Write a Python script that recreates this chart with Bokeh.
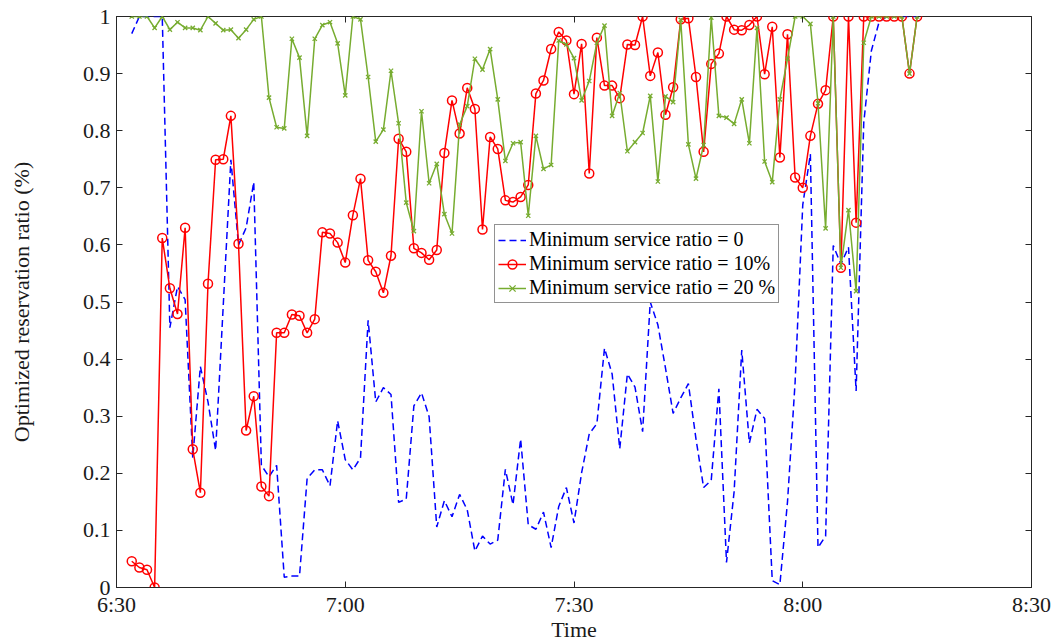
from bokeh.plotting import figure
from bokeh.models import FixedTicker, LinearAxis, CustomLabelingPolicy
from bokeh.embed import file_html
from bokeh.resources import INLINE

# minutes after 6:30
minutes = list(range(2, 106))

ratio_0 = [0.97, 1.0, 1.0, 1.0, 1.0, 0.455, 0.527, 0.504, 0.227, 0.387, 0.325, 0.240, 0.494, 0.749, 0.600, 0.630, 0.710,
           0.214, 0.194, 0.214, 0.018, 0.02, 0.02, 0.191, 0.206, 0.206, 0.178, 0.292, 0.224, 0.206, 0.227, 0.468, 0.325, 0.350, 0.338,
           0.149, 0.155, 0.318, 0.341, 0.299, 0.106, 0.152, 0.124, 0.163, 0.136, 0.064, 0.090, 0.076, 0.083, 0.207, 0.145, 0.260,
           0.110, 0.102, 0.132, 0.070, 0.142, 0.175, 0.113, 0.201, 0.269, 0.287, 0.419, 0.374, 0.243, 0.374, 0.351, 0.273, 0.500, 0.460,
           0.384, 0.305, 0.332, 0.357, 0.260, 0.175, 0.188, 0.348, 0.044, 0.168, 0.416, 0.253, 0.312, 0.296, 0.012, 0.005, 0.15,
           0.36, 0.67, 0.759, 0.07, 0.09, 0.599, 0.566, 0.596, 0.344, 0.814, 0.94, 0.99, 1.0, 1.0, 1.0, 1.0, 1.0]

ratio_10 = [0.046, 0.035, 0.031, 0.0, 0.612, 0.524, 0.479, 0.630, 0.242, 0.166, 0.532, 0.749, 0.750, 0.826, 0.602, 0.275, 0.335,
            0.177, 0.160, 0.446, 0.446, 0.478, 0.476, 0.446, 0.470, 0.622, 0.620, 0.604, 0.569, 0.652, 0.716, 0.573, 0.553, 0.516, 0.581,
            0.786, 0.763, 0.594, 0.586, 0.574, 0.591, 0.761, 0.853, 0.795, 0.875, 0.838, 0.627, 0.789, 0.768, 0.678, 0.675, 0.684,
            0.705, 0.865, 0.888, 0.943, 0.973, 0.958, 0.864, 0.952, 0.725, 0.963, 0.879, 0.879, 0.857, 0.951, 0.950, 1.0, 0.896, 0.937,
            0.828, 0.876, 0.995, 0.997, 0.894, 0.763, 0.917, 0.935, 1.0, 0.977, 0.976, 0.985, 1.0, 0.899, 0.982, 0.753, 0.969,
            0.718, 0.700, 0.791, 0.847, 0.871, 1.0, 0.560, 1.0, 0.639, 1.0, 1.0, 1.0, 1.0, 1.0, 1.0, 0.900, 1.0]

ratio_20 = [1.0, 1.0, 1.0, 0.980, 1.0, 0.977, 0.990, 0.980, 0.980, 0.976, 1.0, 0.988, 0.976, 0.977, 0.962, 0.977, 0.995,
            1.0, 0.858, 0.806, 0.804, 0.961, 0.928, 0.791, 0.961, 0.985, 0.990, 0.953, 0.862, 1.0, 0.995, 0.894, 0.781, 0.802, 0.905,
            0.813, 0.674, 0.624, 0.834, 0.708, 0.742, 0.654, 0.620, 0.811, 0.843, 0.926, 0.907, 0.943, 0.855, 0.747, 0.778, 0.780,
            0.651, 0.791, 0.733, 0.740, 0.958, 0.951, 0.927, 0.853, 0.887, 0.954, 0.984, 0.826, 0.866, 0.764, 0.780, 0.796, 0.861, 0.711,
            0.860, 0.850, 0.994, 0.776, 0.716, 0.775, 0.998, 0.826, 0.823, 0.812, 0.855, 0.778, 0.980, 0.746, 0.710, 0.855, 0.926,
            1.0, 1.0, 0.987, 0.848, 0.629, 1.0, 0.560, 0.661, 0.519, 0.954, 1.0, 1.0, 1.0, 1.0, 1.0, 0.900, 1.0]

x_tick_pos = [0, 30, 60, 90, 120]
x_tick_labels = ["6:30", "7:00", "7:30", "8:00", "8:30"]
y_tick_pos = [0, 0.1, 0.2, 0.3, 0.4, 0.5, 0.6, 0.7, 0.8, 0.9, 1.0]
y_tick_labels = ["0", "0.1", "0.2", "0.3", "0.4", "0.5", "0.6", "0.7", "0.8", "0.9", "1"]

series_names = ["Minimum service ratio = 0", "Minimum service ratio = 10%", "Minimum service ratio = 20 %"]

FONT = "Liberation Serif"
AX = "#262626"

p = figure(width=1058, height=644, x_range=(0, 120), y_range=(0, 1),
           output_backend="svg", toolbar_location=None,
           min_border_left=116, min_border_right=27, min_border_top=16, min_border_bottom=57)
p.xgrid.visible = False
p.ygrid.visible = False
p.outline_line_color = AX
p.outline_line_width = 1
p.background_fill_color = "white"
p.border_fill_color = "white"

p.line(minutes, ratio_0, line_color="#0000ff", line_width=1.5, line_dash="7 4", legend_label=series_names[0])
p.line(minutes, ratio_10, line_color="#ff0000", line_width=1.5, legend_label=series_names[1])
p.scatter(minutes, ratio_10, marker="circle", size=9, line_color="#ff0000", fill_color=None,
          line_width=1.5, legend_label=series_names[1])
p.line(minutes, ratio_20, line_color="#77ac30", line_width=1.5, legend_label=series_names[2])
p.scatter(minutes, ratio_20, marker="x", size=6, line_color="#77ac30", line_width=1.3,
          legend_label=series_names[2])

xt = FixedTicker(ticks=x_tick_pos)
yt = FixedTicker(ticks=y_tick_pos)

for ax in p.xaxis:
    ax.ticker = xt
    ax.major_label_overrides = dict(zip(x_tick_pos, x_tick_labels))
    ax.axis_label = "Time"
for ax in p.yaxis:
    ax.ticker = yt
    ax.major_label_overrides = dict(zip(y_tick_pos, y_tick_labels))
    ax.axis_label = "Optimized reservation ratio (%)"

for ax in list(p.xaxis) + list(p.yaxis):
    ax.axis_line_color = AX
    ax.major_tick_in = 6
    ax.major_tick_out = 0
    ax.major_tick_line_color = AX
    ax.minor_tick_in = 0
    ax.minor_tick_out = 0
    ax.major_label_text_font = FONT
    ax.major_label_text_font_size = "22px"
    ax.major_label_text_color = "#1a1a1a"
    ax.axis_label_text_font = FONT
    ax.axis_label_text_font_size = "22px"
    ax.axis_label_text_font_style = "normal"
    ax.axis_label_text_color = "#1a1a1a"

p.xaxis.major_label_standoff = 4
p.xaxis.axis_label_standoff = -3
p.yaxis.major_label_standoff = 6
p.yaxis.axis_label_standoff = 46

hide_all = CustomLabelingPolicy(code="""
try {
  const n = indices.size;
  for (let i = 0; i < n; i++) { indices.unset(i) }
} catch (e) {}
return indices
""")

top_ax = LinearAxis(ticker=FixedTicker(ticks=x_tick_pos), major_label_text_font_size="0px",
                    major_label_policy=hide_all,
                    axis_line_color=None, major_tick_in=6, major_tick_out=0,
                    minor_tick_in=0, minor_tick_out=0, major_tick_line_color=AX, major_label_standoff=0)
right_ax = LinearAxis(ticker=FixedTicker(ticks=y_tick_pos), major_label_text_font_size="0px",
                      major_label_policy=hide_all,
                      axis_line_color=None, major_tick_in=6, major_tick_out=0,
                      minor_tick_in=0, minor_tick_out=0, major_tick_line_color=AX, major_label_standoff=0)
p.add_layout(top_ax, "above")
p.add_layout(right_ax, "right")

lg = p.legend[0]
lg.location = (378, 284)
lg.margin = 0
lg.padding = 3
lg.spacing = 1
lg.label_height = 22
lg.glyph_height = 22
lg.glyph_width = 28
lg.label_standoff = 3
lg.label_text_font = FONT
lg.label_text_font_size = "20px"
lg.label_text_color = "#000000"
lg.border_line_color = AX
lg.border_line_width = 1
lg.background_fill_color = "white"
lg.background_fill_alpha = 1.0

open("out.html", "w").write(file_html(p, INLINE))
